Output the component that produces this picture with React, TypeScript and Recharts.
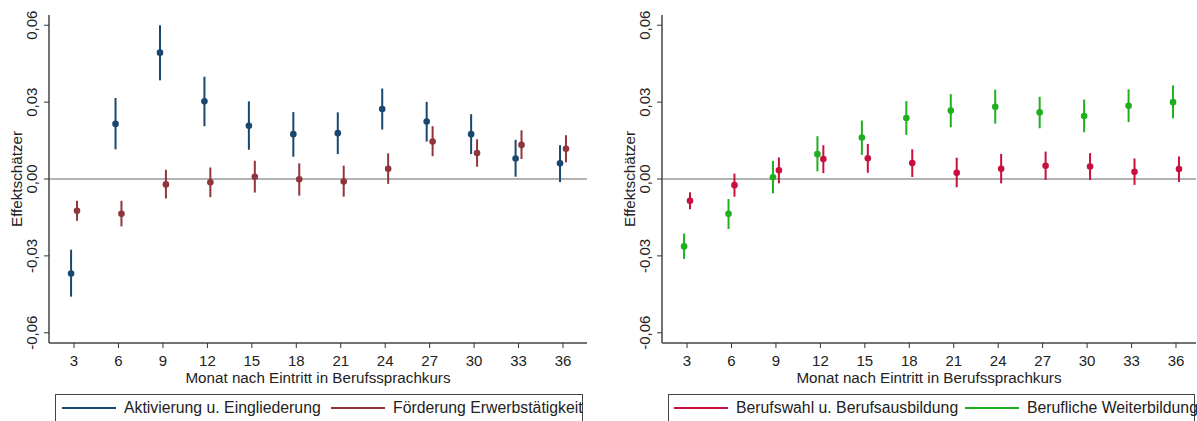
import React from "react";
import {
  ScatterChart,
  Scatter,
  XAxis,
  YAxis,
  ErrorBar,
  ReferenceLine,
} from "recharts";

// Monate nach Eintritt
const months = [3, 6, 9, 12, 15, 18, 21, 24, 27, 30, 33, 36];
const yTicks = [-0.06, -0.03, 0, 0.03, 0.06];

// linke Grafik
const aktEst = [-0.0369, 0.0215, 0.0493, 0.0303, 0.0208, 0.0175, 0.0179, 0.0273, 0.0224, 0.0175, 0.008, 0.0061];
const aktLo = [-0.0459, 0.0116, 0.0385, 0.0206, 0.0114, 0.0087, 0.0097, 0.0193, 0.0146, 0.0097, 0.0009, -0.0012];
const aktHi = [-0.0276, 0.0316, 0.06, 0.0399, 0.0303, 0.0261, 0.026, 0.0353, 0.0301, 0.0253, 0.0153, 0.0132];

const foeEst = [-0.0124, -0.0136, -0.0021, -0.0013, 0.0009, -0.0001, -0.001, 0.004, 0.0146, 0.0101, 0.0133, 0.0118];
const foeLo = [-0.0163, -0.0185, -0.0076, -0.0071, -0.0053, -0.0065, -0.0069, -0.0019, 0.0089, 0.0048, 0.0078, 0.0065];
const foeHi = [-0.0085, -0.0085, 0.0036, 0.0045, 0.0071, 0.0061, 0.0052, 0.01, 0.0206, 0.0155, 0.019, 0.0171];

// rechte Grafik
const bwaEst = [-0.0085, -0.0024, 0.0034, 0.0078, 0.0081, 0.0062, 0.0024, 0.004, 0.0052, 0.0049, 0.0028, 0.0039];
const bwaLo = [-0.0118, -0.0069, -0.0017, 0.0023, 0.0024, 0.0008, -0.0032, -0.0017, -0.0004, -0.0004, -0.0023, -0.0012];
const bwaHi = [-0.0052, 0.0021, 0.0084, 0.0132, 0.0137, 0.0116, 0.0083, 0.0098, 0.0107, 0.0101, 0.008, 0.0088];

const bwbEst = [-0.0263, -0.0136, 0.0007, 0.0097, 0.0162, 0.0238, 0.0267, 0.0282, 0.026, 0.0246, 0.0286, 0.03];
const bwbLo = [-0.0312, -0.0195, -0.0056, 0.003, 0.0094, 0.0172, 0.0202, 0.0216, 0.0198, 0.0182, 0.0222, 0.0237];
const bwbHi = [-0.0213, -0.0078, 0.0071, 0.0167, 0.0228, 0.0304, 0.0331, 0.0349, 0.0321, 0.031, 0.035, 0.0365];

const BLUE = "#1a476f";
const MAROON = "#90353b";
const CRIMSON = "#c8103f";
const GREEN = "#1faf1f";
const FONT = "'Liberation Sans', Arial, sans-serif";

function rows(est: number[], lo: number[], hi: number[], shift: number) {
  return months.map((m, i) => ({
    x: m + shift,
    y: est[i],
    err: [est[i] - lo[i], hi[i] - est[i]],
  }));
}

function fmt(v: number) {
  return v.toFixed(2).replace(".", ",");
}

const YTick = (props: any) => {
  const { x, y, payload } = props;
  const bx = x - 5;
  return (
    <text x={bx} y={y} transform={`rotate(-90 ${bx} ${y})`} textAnchor="middle" fontSize={15} fill="#222">
      {fmt(payload.value)}
    </text>
  );
};

const XTick = (props: any) => {
  const { x, y, payload } = props;
  return (
    <text x={x} y={y} dy={16} textAnchor="middle" fontSize={15} fill="#222">
      {payload.value}
    </text>
  );
};

function Dot(color: string) {
  return (p: any) => <circle cx={p.cx} cy={p.cy} r={3.3} fill={color} />;
}

interface Series {
  data: { x: number; y: number; err: number[] }[];
  color: string;
}

function Panel({ width, right, xMax, series }: { width: number; right: number; xMax: number; series: Series[] }) {
  return (
    <ScatterChart
      width={width}
      height={421}
      margin={{ top: 15, right, bottom: 38, left: 0 }}
      style={{ fontFamily: FONT }}
    >
      <XAxis
        type="number"
        dataKey="x"
        domain={[1.31, xMax]}
        allowDataOverflow
        ticks={months}
        tick={<XTick />}
        tickSize={5}
        tickLine={{ stroke: "#333" }}
        axisLine={{ stroke: "#444", strokeWidth: 1.5 }}
        height={40}
        label={{ value: "Monat nach Eintritt in Berufssprachkurs", position: "insideBottom", offset: 0, fontSize: 15.2, fill: "#222" }}
      />
      <XAxis xAxisId="top" orientation="top" type="number" domain={[1.31, xMax]} height={0} tick={false} tickLine={false} axisLine={{ stroke: "#666", strokeWidth: 1.5 }} />
      <YAxis
        type="number"
        dataKey="y"
        domain={[-0.064, 0.064]}
        allowDataOverflow
        ticks={yTicks}
        tick={<YTick />}
        tickSize={5}
        tickLine={{ stroke: "#333" }}
        axisLine={{ stroke: "#444", strokeWidth: 1.5 }}
        width={49}
        label={{
          value: "Effektschätzer",
          angle: -90,
          position: "insideLeft",
          offset: 17,
          fontSize: 15.2,
          fill: "#222",
          style: { textAnchor: "middle" },
        }}
      />
      <YAxis yAxisId="right" orientation="right" type="number" domain={[-0.064, 0.064]} width={0} tick={false} tickLine={false} axisLine={{ stroke: "#666", strokeWidth: 1.5 }} />
      <ReferenceLine y={0} stroke="#9a9a9a" strokeWidth={1.5} />
      {series.map((s, i) => (
        <Scatter key={i} data={s.data} dataKey="y" fill={s.color} shape={Dot(s.color)} isAnimationActive={false}>
          <ErrorBar dataKey="err" direction="y" width={0} stroke={s.color} strokeWidth={2} isAnimationActive={false} />
        </Scatter>
      ))}
    </ScatterChart>
  );
}

function LegendBox({ left, width, items }: { left: number; width: number; items: { label: string; color: string; at: number }[] }) {
  return (
    <div
      style={{
        position: "absolute",
        left,
        top: 394,
        width,
        height: 40,
        border: "1px solid #444",
        boxSizing: "border-box",
        fontFamily: FONT,
        fontSize: 15.8,
        color: "#222",
      }}
    >
      {items.map((it) => (
        <div key={it.label} style={{ position: "absolute", left: it.at, top: 4, display: "flex", alignItems: "center", whiteSpace: "nowrap" }}>
          <span style={{ display: "inline-block", width: 54, height: 2, background: it.color, marginRight: 8 }} />
          <span>{it.label}</span>
        </div>
      ))}
    </div>
  );
}

export default function App() {
  const left: Series[] = [
    { data: rows(aktEst, aktLo, aktHi, -0.2), color: BLUE },
    { data: rows(foeEst, foeLo, foeHi, 0.2), color: MAROON },
  ];
  const right: Series[] = [
    { data: rows(bwbEst, bwbLo, bwbHi, -0.2), color: GREEN },
    { data: rows(bwaEst, bwaLo, bwaHi, 0.2), color: CRIMSON },
  ];
  return (
    <div style={{ position: "absolute", left: 0, top: 0, width: 1197, height: 421, overflow: "hidden", background: "#fff" }}>
      <div style={{ position: "absolute", left: 0, top: 0 }}>
        <Panel width={600} right={13} xMax={37.62} series={left} />
      </div>
      <div style={{ position: "absolute", left: 613, top: 0 }}>
        <Panel width={584} right={1} xMax={37.35} series={right} />
      </div>
      <LegendBox
        left={55}
        width={528}
        items={[
          { label: "Aktivierung u. Eingliederung", color: BLUE, at: 6 },
          { label: "Förderung Erwerbstätigkeit", color: MAROON, at: 275 },
        ]}
      />
      <LegendBox
        left={668}
        width={527}
        items={[
          { label: "Berufswahl u. Berufsausbildung", color: CRIMSON, at: 5 },
          { label: "Berufliche Weiterbildung", color: GREEN, at: 296 },
        ]}
      />
    </div>
  );
}
